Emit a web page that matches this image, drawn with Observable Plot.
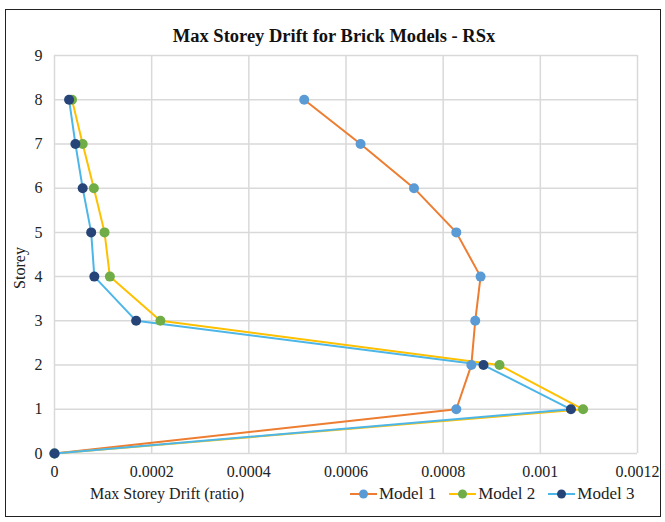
<!DOCTYPE html>
<html>
<head>
<meta charset="utf-8">
<script src="https://cdn.jsdelivr.net/npm/d3@7"></script>
<script src="https://cdn.jsdelivr.net/npm/@observablehq/plot@0.6"></script>
<style>
  html, body { margin: 0; padding: 0; background: #fff; }
  #wrap { position: relative; width: 665px; height: 522px; font-family: "Liberation Serif", "Times New Roman", serif; }
  #frame { position: absolute; left: 5px; top: 9px; width: 656px; height: 508px; border: 1.5px solid #222; box-sizing: border-box; pointer-events: none; }
  #title { position: absolute; left: 0; width: 668px; top: 26px; text-align: center; font-weight: bold; font-size: 18.5px; color: #111; }
  #xtitle { position: absolute; left: 90px; top: 485px; font-size: 16px; color: #222; }
  #ytitle { position: absolute; left: 20px; top: 268px; font-size: 16px; color: #222; transform: translate(-50%, -50%) rotate(-90deg); white-space: nowrap; }
  #legend { position: absolute; left: 350px; top: 484px; font-size: 17px; color: #222; display: flex; gap: 13px; }
  .item { display: flex; align-items: center; gap: 2px; }
  #wrap > svg { position: absolute; left: 0; top: 0; font-family: "Liberation Serif", "Times New Roman", serif; }
  #wrap svg text { font-family: "Liberation Serif", "Times New Roman", serif; }
</style>
</head>
<body>
<div id="wrap"></div>
<script>
const storeys = [0, 1, 2, 3, 4, 5, 6, 7, 8];
const model1 = [0, 0.000827, 0.000858, 0.000866, 0.000877, 0.000827, 0.00074, 0.00063, 0.000514];
const model2 = [0, 0.001088, 0.000916, 0.000218, 0.000114, 0.000103, 0.000081, 0.000058, 0.000036];
const model3 = [0, 0.001063, 0.000883, 0.000168, 0.000082, 0.0000755, 0.000058, 0.000043, 0.00003];
const seriesNames = ["Model 1", "Model 2", "Model 3"];
const lineColors = ["#ED7D31", "#FFC000", "#4DB6E8"];
const dotColors = ["#5B9BD5", "#70AD47", "#264478"];
const xTicks = [0, 0.0002, 0.0004, 0.0006, 0.0008, 0.001, 0.0012];
const xTickLabels = ["0", "0.0002", "0.0004", "0.0006", "0.0008", "0.001", "0.0012"];
const yTicks = [0, 1, 2, 3, 4, 5, 6, 7, 8, 9];

const allSeries = [model1, model2, model3];
const rows = allSeries.map((vals, i) => storeys.map((s, j) => ({series: seriesNames[i], storey: s, drift: vals[j]})));

const font = '"Liberation Serif", "Times New Roman", serif';
const marks = [
  Plot.gridX(xTicks, {stroke: "#d9d9d9", strokeOpacity: 1, strokeWidth: 1.5}),
  Plot.gridY(yTicks, {stroke: "#d9d9d9", strokeOpacity: 1, strokeWidth: 1.5}),
  Plot.axisX(xTicks, {tickSize: 0, tickPadding: 12, fontSize: 16, fontFamily: font, fill: "#222", tickFormat: (d, i) => xTickLabels[i], label: null}),
  Plot.axisY(yTicks, {tickSize: 0, tickPadding: 12, fontSize: 16, fontFamily: font, fill: "#222", label: null})
];
rows.forEach((r, i) => marks.push(Plot.line(r, {x: "drift", y: "storey", stroke: lineColors[i], strokeWidth: 2})));
rows.forEach((r, i) => marks.push(Plot.dot(r, {x: "drift", y: "storey", fill: dotColors[i], r: 5})));

const chart = Plot.plot({
  width: 665, height: 522,
  marginLeft: 54, marginRight: 28, marginTop: 55, marginBottom: 69,
  style: {fontFamily: font, background: "transparent"},
  x: {domain: [0, 0.0012]},
  y: {domain: [0, 9]},
  marks
});

const wrap = document.getElementById("wrap");
wrap.appendChild(chart);
wrap.insertAdjacentHTML("beforeend", `
  <div id="frame"></div>
  <div id="title">Max Storey Drift for Brick Models - RSx</div>
  <div id="ytitle">Storey</div>
  <div id="xtitle">Max Storey Drift (ratio)</div>
  <div id="legend">${seriesNames.map((n, i) => `
    <div class="item"><svg width="27" height="12"><line x1="0" y1="6" x2="27" y2="6" stroke="${lineColors[i]}" stroke-width="2"/><circle cx="13.5" cy="6" r="4.5" fill="${dotColors[i]}"/></svg><span>${n}</span></div>`).join("")}
  </div>`);
</script>
</body>
</html>
